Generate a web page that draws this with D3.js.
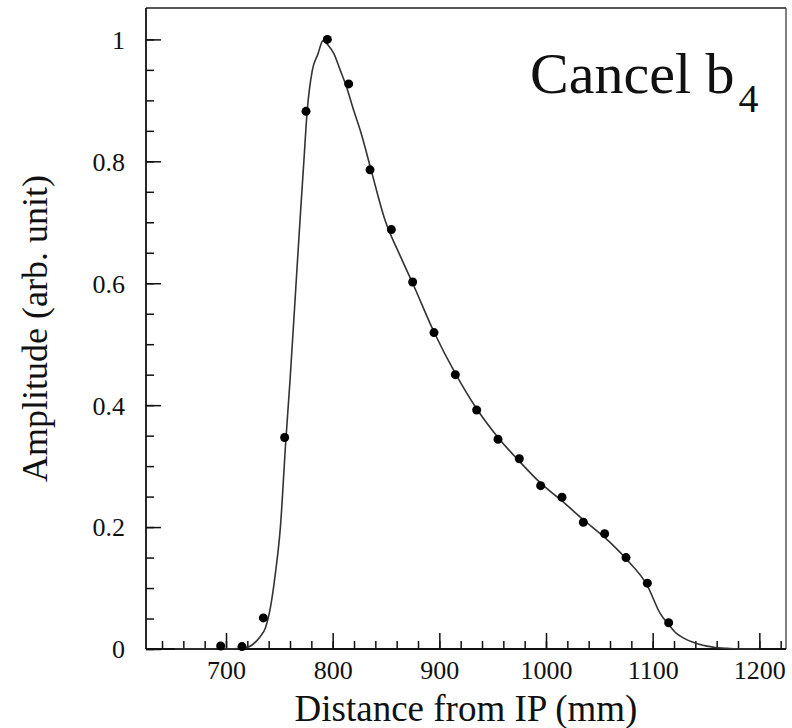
<!DOCTYPE html>
<html>
<head>
<meta charset="utf-8">
<script src="https://cdn.jsdelivr.net/npm/d3@7"></script>
<style>
  html, body { margin: 0; padding: 0; background: #fff; }
  svg { display: block; }
  text { font-family: "Liberation Serif", "Times New Roman", serif; fill: #111; }
</style>
</head>
<body>
<svg id="chart" width="792" height="728"></svg>
<script>
// ---- data ----
const pointX = [695, 715, 735, 755, 775, 795, 815, 835, 855, 875, 895, 915, 935, 955, 975, 995, 1015, 1035, 1055, 1075, 1095, 1115];
const pointY = [0.005, 0.004, 0.051, 0.347, 0.882, 1.0, 0.927, 0.786, 0.688, 0.602, 0.519, 0.450, 0.392, 0.344, 0.312, 0.268, 0.249, 0.208, 0.189, 0.150, 0.108, 0.043];

const curveX = [652, 700, 715, 722, 728, 732, 737, 741, 746, 751, 756, 760, 765, 770, 773, 776, 781, 786, 791, 796, 801, 807, 813, 820, 826, 836, 849, 863, 875, 895, 915, 935, 955, 975, 995, 1015, 1035, 1055, 1075, 1095, 1107, 1115, 1122, 1130, 1138, 1147, 1157, 1170, 1180, 1200];
const curveY = [0, 0, 0.001, 0.004, 0.012, 0.02, 0.035, 0.062, 0.12, 0.2, 0.34, 0.44, 0.58, 0.72, 0.80, 0.88, 0.95, 0.975, 0.998, 0.99, 0.977, 0.95, 0.922, 0.882, 0.85, 0.786, 0.704, 0.646, 0.60, 0.52, 0.452, 0.394, 0.347, 0.308, 0.272, 0.243, 0.212, 0.183, 0.148, 0.104, 0.0585, 0.04, 0.026, 0.017, 0.011, 0.006, 0.003, 0.001, 0, 0];

const xMajorTicks = [700, 800, 900, 1000, 1100, 1200];
const yMajorTicks = [0, 0.2, 0.4, 0.6, 0.8, 1];
const xTickLabels = ["700", "800", "900", "1000", "1100", "1200"];
const yTickLabels = ["0", "0.2", "0.4", "0.6", "0.8", "1"];
const xMinorTicks = d3.range(640, 1225, 20);
const yMinorTicks = d3.range(0, 1.0001, 0.05);

const xTitle = "Distance from IP (mm)";
const yTitle = "Amplitude (arb. unit)";
const plotTitle = "Cancel b";
const plotTitleSub = "4";

// ---- layout ----
const L = 146, R = 786, T = 8, B = 649;
const x = d3.scaleLinear().domain([625, 1225]).range([L, R]);
const y = d3.scaleLinear().domain([0, 1.0515]).range([B, T]);

const svg = d3.select("#chart");

// frame top/right
svg.append("line").attr("x1", L).attr("x2", R).attr("y1", T).attr("y2", T)
  .attr("stroke", "#555").attr("stroke-width", 2);
svg.append("line").attr("x1", R).attr("x2", R).attr("y1", T).attr("y2", B)
  .attr("stroke", "#555").attr("stroke-width", 1.5);

// x axis
const xAxisMinor = d3.axisBottom(x).tickValues(xMinorTicks).tickSize(-8).tickFormat("");
const xAxisMajor = d3.axisBottom(x).tickValues(xMajorTicks).tickSize(-16)
  .tickFormat((d, i) => xTickLabels[i]).tickPadding(14);
const gxm = svg.append("g").attr("transform", `translate(0,${B})`).call(xAxisMinor);
const gx = svg.append("g").attr("transform", `translate(0,${B})`).call(xAxisMajor);
[gxm, gx].forEach(g => {
  g.select(".domain").remove();
  g.selectAll(".tick line").attr("stroke", "#111").attr("stroke-width", 1.5);
});
gx.selectAll(".tick text").attr("font-size", 26).attr("fill", "#111")
  .attr("font-family", "Liberation Serif, serif").attr("dy", "0.71em")
  .attr("y", 12);

// y axis
const yAxisMinor = d3.axisLeft(y).tickValues(yMinorTicks).tickSize(-8).tickFormat("");
const yAxisMajor = d3.axisLeft(y).tickValues(yMajorTicks).tickSize(-15)
  .tickFormat((d, i) => yTickLabels[i]);
const gym = svg.append("g").attr("transform", `translate(${L},0)`).call(yAxisMinor);
const gy = svg.append("g").attr("transform", `translate(${L},0)`).call(yAxisMajor);
[gym, gy].forEach(g => {
  g.select(".domain").remove();
  g.selectAll(".tick line").attr("stroke", "#111").attr("stroke-width", 1.5);
});
gy.selectAll(".tick text").attr("font-size", 26).attr("fill", "#111")
  .attr("font-family", "Liberation Serif, serif").attr("x", -21).attr("dy", "0.34em");

// axis lines
svg.append("line").attr("x1", L).attr("x2", R).attr("y1", B).attr("y2", B)
  .attr("stroke", "#111").attr("stroke-width", 1.8);
svg.append("line").attr("x1", L).attr("x2", L).attr("y1", T).attr("y2", B)
  .attr("stroke", "#111").attr("stroke-width", 1.8);

// curve
const curveData = curveX.map((v, i) => [v, curveY[i]]);
const line = d3.line().x(d => x(d[0])).y(d => y(d[1])).curve(d3.curveMonotoneX);
svg.append("path").datum(curveData).attr("d", line)
  .attr("fill", "none").attr("stroke", "#333").attr("stroke-width", 1.6);

// points
const pts = pointX.map((v, i) => [v, pointY[i]]);
svg.append("g").selectAll("circle").data(pts).join("circle")
  .attr("cx", d => x(d[0])).attr("cy", d => y(d[1])).attr("r", 4.5).attr("fill", "#000");

// titles
svg.append("text").attr("x", (L + R) / 2).attr("y", 721).attr("text-anchor", "middle")
  .attr("font-size", 37).text(xTitle);
svg.append("text").attr("transform", `translate(47,${(T + B) / 2}) rotate(-90)`)
  .attr("text-anchor", "middle").attr("font-size", 36).text(yTitle);

const t = svg.append("text").attr("x", 530).attr("y", 93).attr("font-size", 58).text(plotTitle);
t.append("tspan").attr("dx", 4).attr("dy", 19).attr("font-size", 40).text(plotTitleSub);
</script>
</body>
</html>
